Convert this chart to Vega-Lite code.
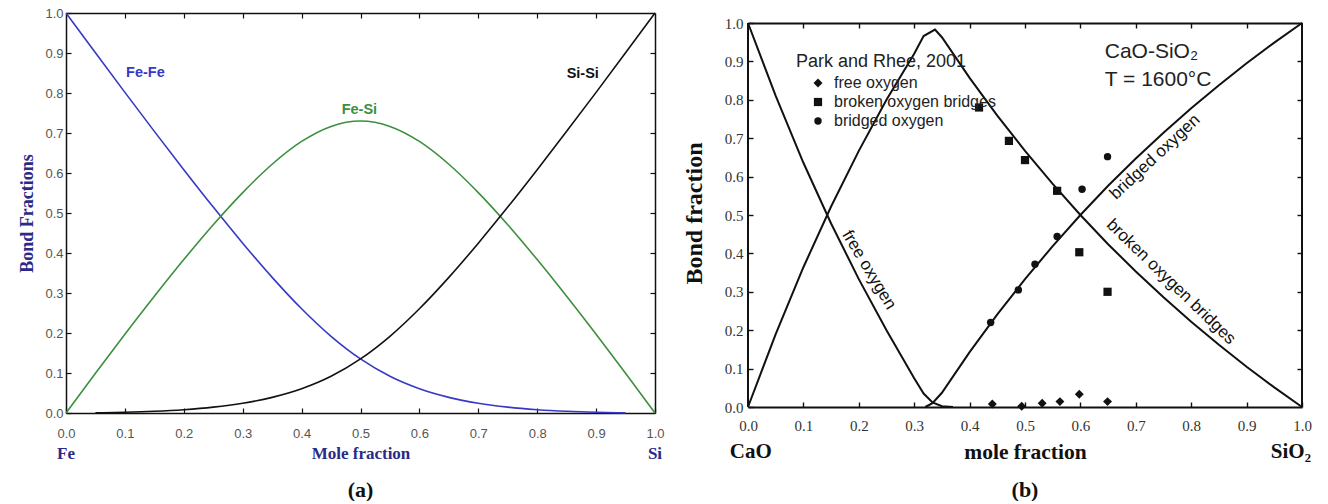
{
  "$schema": "https://vega.github.io/schema/vega-lite/v6.json",
  "background": "white",
  "padding": {"left": 18, "top": 7, "right": 0, "bottom": 0},
  "spacing": 17,
  "bounds": "full",
  "resolve": {"legend": {"shape": "independent", "size": "independent", "color": "independent"}},
  "config": {
    "view": {"stroke": null},
    "axis": {"grid": false, "labelFlush": false, "labelOverlap": false, "labelBound": false}
  },
  "datasets": {
    "lines_a": [
      {"pair": "Fe-Fe", "x": 0.0, "y": 1.0},
      {"pair": "Fe-Fe", "x": 0.05, "y": 0.9004},
      {"pair": "Fe-Fe", "x": 0.1, "y": 0.8016},
      {"pair": "Fe-Fe", "x": 0.15, "y": 0.7041},
      {"pair": "Fe-Fe", "x": 0.2, "y": 0.6083},
      {"pair": "Fe-Fe", "x": 0.25, "y": 0.5147},
      {"pair": "Fe-Fe", "x": 0.3, "y": 0.4245},
      {"pair": "Fe-Fe", "x": 0.35, "y": 0.3391},
      {"pair": "Fe-Fe", "x": 0.4, "y": 0.2606},
      {"pair": "Fe-Fe", "x": 0.45, "y": 0.1917},
      {"pair": "Fe-Fe", "x": 0.5, "y": 0.1351},
      {"pair": "Fe-Fe", "x": 0.55, "y": 0.0917},
      {"pair": "Fe-Fe", "x": 0.6, "y": 0.0606},
      {"pair": "Fe-Fe", "x": 0.65, "y": 0.0391},
      {"pair": "Fe-Fe", "x": 0.7, "y": 0.0245},
      {"pair": "Fe-Fe", "x": 0.75, "y": 0.0147},
      {"pair": "Fe-Fe", "x": 0.8, "y": 0.0083},
      {"pair": "Fe-Fe", "x": 0.85, "y": 0.0042},
      {"pair": "Fe-Fe", "x": 0.9, "y": 0.0017},
      {"pair": "Fe-Fe", "x": 0.95, "y": 0.0004},
      {"pair": "Fe-Si", "x": 0.0, "y": 0.0},
      {"pair": "Fe-Si", "x": 0.05, "y": 0.0992},
      {"pair": "Fe-Si", "x": 0.1, "y": 0.1967},
      {"pair": "Fe-Si", "x": 0.15, "y": 0.2917},
      {"pair": "Fe-Si", "x": 0.2, "y": 0.3835},
      {"pair": "Fe-Si", "x": 0.25, "y": 0.4706},
      {"pair": "Fe-Si", "x": 0.3, "y": 0.551},
      {"pair": "Fe-Si", "x": 0.35, "y": 0.6219},
      {"pair": "Fe-Si", "x": 0.4, "y": 0.6789},
      {"pair": "Fe-Si", "x": 0.45, "y": 0.7165},
      {"pair": "Fe-Si", "x": 0.5, "y": 0.7299},
      {"pair": "Fe-Si", "x": 0.55, "y": 0.7165},
      {"pair": "Fe-Si", "x": 0.6, "y": 0.6789},
      {"pair": "Fe-Si", "x": 0.65, "y": 0.6219},
      {"pair": "Fe-Si", "x": 0.7, "y": 0.551},
      {"pair": "Fe-Si", "x": 0.75, "y": 0.4706},
      {"pair": "Fe-Si", "x": 0.8, "y": 0.3835},
      {"pair": "Fe-Si", "x": 0.85, "y": 0.2917},
      {"pair": "Fe-Si", "x": 0.9, "y": 0.1967},
      {"pair": "Fe-Si", "x": 0.95, "y": 0.0992},
      {"pair": "Fe-Si", "x": 1.0, "y": 0.0},
      {"pair": "Si-Si", "x": 0.05, "y": 0.0004},
      {"pair": "Si-Si", "x": 0.1, "y": 0.0017},
      {"pair": "Si-Si", "x": 0.15, "y": 0.0042},
      {"pair": "Si-Si", "x": 0.2, "y": 0.0083},
      {"pair": "Si-Si", "x": 0.25, "y": 0.0147},
      {"pair": "Si-Si", "x": 0.3, "y": 0.0245},
      {"pair": "Si-Si", "x": 0.35, "y": 0.0391},
      {"pair": "Si-Si", "x": 0.4, "y": 0.0606},
      {"pair": "Si-Si", "x": 0.45, "y": 0.0917},
      {"pair": "Si-Si", "x": 0.5, "y": 0.1351},
      {"pair": "Si-Si", "x": 0.55, "y": 0.1917},
      {"pair": "Si-Si", "x": 0.6, "y": 0.2606},
      {"pair": "Si-Si", "x": 0.65, "y": 0.3391},
      {"pair": "Si-Si", "x": 0.7, "y": 0.4245},
      {"pair": "Si-Si", "x": 0.75, "y": 0.5147},
      {"pair": "Si-Si", "x": 0.8, "y": 0.6083},
      {"pair": "Si-Si", "x": 0.85, "y": 0.7041},
      {"pair": "Si-Si", "x": 0.9, "y": 0.8016},
      {"pair": "Si-Si", "x": 0.95, "y": 0.9004},
      {"pair": "Si-Si", "x": 1.0, "y": 1.0}
    ],
    "labels_a": [
      {"pair": "Fe-Fe", "x": 0.102, "y": 0.849},
      {"pair": "Fe-Si", "x": 0.468, "y": 0.7575},
      {"pair": "Si-Si", "x": 0.85, "y": 0.8475}
    ],
    "ends_a": [
      {"label": "Fe", "x": 0.0, "y": -0.1025},
      {"label": "Si", "x": 1.0, "y": -0.1025}
    ],
    "panel_a": [
      {"label": "(a)", "x": 0.5, "y": -0.1925}
    ],
    "lines_b": [
      {"curve": "free oxygen", "x": 0.0, "y": 1.0},
      {"curve": "free oxygen", "x": 0.05, "y": 0.81},
      {"curve": "free oxygen", "x": 0.1, "y": 0.636},
      {"curve": "free oxygen", "x": 0.15, "y": 0.478},
      {"curve": "free oxygen", "x": 0.2, "y": 0.333},
      {"curve": "free oxygen", "x": 0.25, "y": 0.2},
      {"curve": "free oxygen", "x": 0.3, "y": 0.075},
      {"curve": "free oxygen", "x": 0.317, "y": 0.035},
      {"curve": "free oxygen", "x": 0.333, "y": 0.012},
      {"curve": "free oxygen", "x": 0.35, "y": 0.002},
      {"curve": "free oxygen", "x": 0.37, "y": 0.0},
      {"curve": "broken oxygen bridges", "x": 0.0, "y": 0.0},
      {"curve": "broken oxygen bridges", "x": 0.05, "y": 0.19},
      {"curve": "broken oxygen bridges", "x": 0.1, "y": 0.364},
      {"curve": "broken oxygen bridges", "x": 0.15, "y": 0.522},
      {"curve": "broken oxygen bridges", "x": 0.2, "y": 0.667},
      {"curve": "broken oxygen bridges", "x": 0.25, "y": 0.8},
      {"curve": "broken oxygen bridges", "x": 0.3, "y": 0.92},
      {"curve": "broken oxygen bridges", "x": 0.317, "y": 0.966},
      {"curve": "broken oxygen bridges", "x": 0.3375, "y": 0.983},
      {"curve": "broken oxygen bridges", "x": 0.35, "y": 0.963},
      {"curve": "broken oxygen bridges", "x": 0.4, "y": 0.857},
      {"curve": "broken oxygen bridges", "x": 0.45, "y": 0.759},
      {"curve": "broken oxygen bridges", "x": 0.5, "y": 0.667},
      {"curve": "broken oxygen bridges", "x": 0.55, "y": 0.581},
      {"curve": "broken oxygen bridges", "x": 0.6, "y": 0.5},
      {"curve": "broken oxygen bridges", "x": 0.65, "y": 0.424},
      {"curve": "broken oxygen bridges", "x": 0.7, "y": 0.353},
      {"curve": "broken oxygen bridges", "x": 0.75, "y": 0.286},
      {"curve": "broken oxygen bridges", "x": 0.8, "y": 0.222},
      {"curve": "broken oxygen bridges", "x": 0.85, "y": 0.162},
      {"curve": "broken oxygen bridges", "x": 0.9, "y": 0.105},
      {"curve": "broken oxygen bridges", "x": 0.95, "y": 0.051},
      {"curve": "broken oxygen bridges", "x": 1.0, "y": 0.0},
      {"curve": "bridged oxygen", "x": 0.32, "y": 0.0},
      {"curve": "bridged oxygen", "x": 0.333, "y": 0.01},
      {"curve": "bridged oxygen", "x": 0.35, "y": 0.037},
      {"curve": "bridged oxygen", "x": 0.4, "y": 0.143},
      {"curve": "bridged oxygen", "x": 0.45, "y": 0.241},
      {"curve": "bridged oxygen", "x": 0.5, "y": 0.333},
      {"curve": "bridged oxygen", "x": 0.55, "y": 0.419},
      {"curve": "bridged oxygen", "x": 0.6, "y": 0.5},
      {"curve": "bridged oxygen", "x": 0.65, "y": 0.576},
      {"curve": "bridged oxygen", "x": 0.7, "y": 0.647},
      {"curve": "bridged oxygen", "x": 0.75, "y": 0.714},
      {"curve": "bridged oxygen", "x": 0.8, "y": 0.778},
      {"curve": "bridged oxygen", "x": 0.85, "y": 0.838},
      {"curve": "bridged oxygen", "x": 0.9, "y": 0.895},
      {"curve": "bridged oxygen", "x": 0.95, "y": 0.949},
      {"curve": "bridged oxygen", "x": 1.0, "y": 1.0}
    ],
    "points_b": [
      {"series": "free oxygen", "x": 0.441, "y": 0.008},
      {"series": "free oxygen", "x": 0.494, "y": 0.002},
      {"series": "free oxygen", "x": 0.531, "y": 0.01},
      {"series": "free oxygen", "x": 0.563, "y": 0.014},
      {"series": "free oxygen", "x": 0.598, "y": 0.033},
      {"series": "free oxygen", "x": 0.649, "y": 0.014},
      {"series": "broken oxygen bridges", "x": 0.417, "y": 0.78},
      {"series": "broken oxygen bridges", "x": 0.471, "y": 0.693},
      {"series": "broken oxygen bridges", "x": 0.5, "y": 0.643},
      {"series": "broken oxygen bridges", "x": 0.558, "y": 0.563},
      {"series": "broken oxygen bridges", "x": 0.598, "y": 0.403},
      {"series": "broken oxygen bridges", "x": 0.649, "y": 0.3},
      {"series": "bridged oxygen", "x": 0.438, "y": 0.22},
      {"series": "bridged oxygen", "x": 0.488, "y": 0.305},
      {"series": "bridged oxygen", "x": 0.518, "y": 0.372},
      {"series": "bridged oxygen", "x": 0.558, "y": 0.444},
      {"series": "bridged oxygen", "x": 0.603, "y": 0.567},
      {"series": "bridged oxygen", "x": 0.649, "y": 0.652}
    ],
    "frame_b": [
      {"x": 0.0},
      {"x": 1.0}
    ],
    "annot_b": [
      {"label": "free oxygen", "x": 0.2184, "y": 0.357},
      {"label": "bridged oxygen", "x": 0.7347, "y": 0.651},
      {"label": "broken oxygen bridges", "x": 0.7635, "y": 0.326}
    ],
    "notes_b": [
      {"label": "Park and Rhee, 2001", "x": 0.0866, "y": 0.898, "size": "small"},
      {"label": "CaO-SiO₂", "x": 0.644, "y": 0.925, "size": "big"},
      {"label": "T = 1600°C", "x": 0.644, "y": 0.852, "size": "big"}
    ],
    "ends_b": [
      {"label": "CaO", "x": 0.005, "y": -0.117},
      {"label": "SiO₂", "x": 0.98, "y": -0.117}
    ],
    "panel_b": [
      {"label": "(b)", "x": 0.5, "y": -0.216}
    ]
  },
  "hconcat": [
    {
      "width": 589,
      "height": 400,
      "resolve": {"axis": {"x": "independent", "y": "independent"}},
      "layer": [
        {
          "data": {"name": "lines_a"},
          "mark": {"type": "line", "interpolate": "monotone", "strokeWidth": 1.6},
          "encoding": {
            "x": {"field": "x", "type": "quantitative",
              "scale": {"domain": [0, 1], "nice": false, "zero": false},
              "axis": {"orient": "bottom", "values": [0, 0.1, 0.2, 0.3, 0.4, 0.5, 0.6, 0.7, 0.8, 0.9, 1.0], "format": ".1f",
                "title": "Mole fraction", "titleFont": "Liberation Serif", "titleFontSize": 17, "titleFontWeight": "bold", "titleColor": "#2a2a88", "titlePadding": 5,
                "labelFont": "Liberation Sans", "labelFontSize": 13, "labelColor": "#555555", "labelPadding": 19,
                "tickSize": -5, "tickColor": "#111111", "tickWidth": 1.2, "domainColor": "#111111", "domainWidth": 1.5}},
            "y": {"field": "y", "type": "quantitative",
              "scale": {"domain": [0, 1], "nice": false, "zero": false},
              "axis": {"orient": "left", "values": [0, 0.1, 0.2, 0.3, 0.4, 0.5, 0.6, 0.7, 0.8, 0.9, 1.0], "format": ".1f",
                "title": "Bond Fractions", "titleFont": "Liberation Serif", "titleFontSize": 18, "titleFontWeight": "bold", "titleColor": "#2a2a88", "titlePadding": 8,
                "labelFont": "Liberation Sans", "labelFontSize": 13, "labelColor": "#555555", "labelPadding": 8,
                "tickSize": -5, "tickColor": "#111111", "tickWidth": 1.2, "domainColor": "#111111", "domainWidth": 1.5}},
            "color": {"field": "pair", "type": "nominal",
              "scale": {"domain": ["Fe-Fe", "Fe-Si", "Si-Si"], "range": ["#3838c8", "#3d8f3d", "#111111"]}, "legend": null}
          }
        },
        {
          "data": {"name": "labels_a"},
          "mark": {"type": "text", "align": "left", "baseline": "middle", "font": "Liberation Sans", "fontWeight": "bold", "fontSize": 14.5},
          "encoding": {
            "x": {"field": "x", "type": "quantitative",
              "axis": {"orient": "top", "labels": false, "title": null, "values": [0.1, 0.2, 0.3, 0.4, 0.5, 0.6, 0.7, 0.8, 0.9],
                "tickSize": -5, "tickColor": "#111111", "tickWidth": 1.2, "domainColor": "#111111", "domainWidth": 1.5}},
            "y": {"field": "y", "type": "quantitative",
              "axis": {"orient": "right", "labels": false, "title": null, "values": [0.1, 0.2, 0.3, 0.4, 0.5, 0.6, 0.7, 0.8, 0.9],
                "tickSize": -5, "tickColor": "#111111", "tickWidth": 1.2, "domainColor": "#111111", "domainWidth": 1.5}},
            "text": {"field": "pair"},
            "color": {"field": "pair", "type": "nominal", "legend": null}
          }
        },
        {
          "data": {"name": "ends_a"},
          "mark": {"type": "text", "align": "center", "baseline": "middle", "font": "Liberation Serif", "fontWeight": "bold", "fontSize": 17, "color": "#2a2a88"},
          "encoding": {
            "x": {"field": "x", "type": "quantitative", "axis": null},
            "y": {"field": "y", "type": "quantitative", "axis": null},
            "text": {"field": "label"}
          }
        },
        {
          "data": {"name": "panel_a"},
          "mark": {"type": "text", "align": "center", "baseline": "middle", "font": "Liberation Serif", "fontWeight": "bold", "fontSize": 22, "color": "#111111"},
          "encoding": {
            "x": {"field": "x", "type": "quantitative", "axis": null},
            "y": {"field": "y", "type": "quantitative", "axis": null},
            "text": {"field": "label"}
          }
        }
      ]
    },
    {
      "width": 554,
      "height": 400,
      "resolve": {"axis": {"x": "independent", "y": "independent"}},
      "layer": [
        {
          "data": {"name": "lines_b"},
          "mark": {"type": "line", "strokeWidth": 2, "color": "#111111"},
          "encoding": {
            "x": {"field": "x", "type": "quantitative",
              "scale": {"domain": [0, 1], "nice": false, "zero": false},
              "axis": {"orient": "bottom", "offset": -6, "values": [0, 0.1, 0.2, 0.3, 0.4, 0.5, 0.6, 0.7, 0.8, 0.9, 1.0], "format": ".1f",
                "title": "mole fraction", "titleFont": "Liberation Serif", "titleFontSize": 21.5, "titleFontWeight": "bold", "titleColor": "#111111", "titlePadding": 8,
                "labelFont": "Liberation Serif", "labelFontSize": 15, "labelColor": "#333333", "labelPadding": 16,
                "tickSize": -5, "tickColor": "#111111", "tickWidth": 1.4, "domainColor": "#111111", "domainWidth": 2}},
            "y": {"field": "y", "type": "quantitative",
              "scale": {"domain": [-0.015625, 1.0260417], "nice": false, "zero": false},
              "axis": {"orient": "left", "domain": false, "values": [0, 0.1, 0.2, 0.3, 0.4, 0.5, 0.6, 0.7, 0.8, 0.9, 1.0], "format": ".1f",
                "title": "Bond fraction", "titleFont": "Liberation Serif", "titleFontSize": 24, "titleFontWeight": "bold", "titleColor": "#111111", "titlePadding": 18,
                "labelFont": "Liberation Serif", "labelFontSize": 15, "labelColor": "#333333", "labelPadding": 10,
                "tickSize": -5, "tickColor": "#111111", "tickWidth": 1.4}},
            "detail": {"field": "curve", "type": "nominal"}
          }
        },
        {
          "data": {"name": "frame_b"},
          "mark": {"type": "rule", "strokeWidth": 2, "color": "#111111"},
          "encoding": {
            "x": {"field": "x", "type": "quantitative", "axis": null},
            "y": {"datum": 0, "type": "quantitative", "axis": null},
            "y2": {"datum": 1}
          }
        },
        {
          "data": {"name": "points_b"},
          "mark": {"type": "point", "filled": true, "opacity": 1, "color": "#111111"},
          "encoding": {
            "x": {"field": "x", "type": "quantitative",
              "axis": {"orient": "top", "offset": -10, "labels": false, "title": null, "values": [0.1, 0.2, 0.3, 0.4, 0.5, 0.6, 0.7, 0.8, 0.9],
                "tickSize": -5, "tickColor": "#111111", "tickWidth": 1.4, "domainColor": "#111111", "domainWidth": 2}},
            "y": {"field": "y", "type": "quantitative",
              "axis": {"orient": "right", "domain": false, "labels": false, "title": null, "values": [0.1, 0.2, 0.3, 0.4, 0.5, 0.6, 0.7, 0.8, 0.9],
                "tickSize": -5, "tickColor": "#111111", "tickWidth": 1.4}},
            "shape": {"field": "series", "type": "nominal",
              "scale": {"domain": ["free oxygen", "broken oxygen bridges", "bridged oxygen"], "range": ["diamond", "square", "circle"]},
              "legend": {"orient": "none", "legendX": 62, "legendY": 62, "title": null, "padding": 0, "rowPadding": 3, "labelLimit": 0,
                "labelFont": "Liberation Sans", "labelFontSize": 16, "labelColor": "#222222", "labelOffset": 8, "symbolStrokeWidth": 0}},
            "size": {"field": "series", "type": "nominal",
              "scale": {"domain": ["free oxygen", "broken oxygen bridges", "bridged oxygen"], "range": [80, 55, 110]}}
          }
        },
        {
          "data": {"name": "annot_b"},
          "transform": [{"filter": "datum.label === 'free oxygen'"}],
          "mark": {"type": "text", "align": "center", "baseline": "middle", "angle": 59, "font": "Liberation Sans", "fontSize": 17, "color": "#111111"},
          "encoding": {
            "x": {"field": "x", "type": "quantitative", "axis": null},
            "y": {"field": "y", "type": "quantitative", "axis": null},
            "text": {"field": "label"}
          }
        },
        {
          "data": {"name": "annot_b"},
          "transform": [{"filter": "datum.label === 'bridged oxygen'"}],
          "mark": {"type": "text", "align": "center", "baseline": "middle", "angle": -43, "font": "Liberation Sans", "fontSize": 17, "color": "#111111"},
          "encoding": {
            "x": {"field": "x", "type": "quantitative", "axis": null},
            "y": {"field": "y", "type": "quantitative", "axis": null},
            "text": {"field": "label"}
          }
        },
        {
          "data": {"name": "annot_b"},
          "transform": [{"filter": "datum.label === 'broken oxygen bridges'"}],
          "mark": {"type": "text", "align": "center", "baseline": "middle", "angle": 44, "font": "Liberation Sans", "fontSize": 17, "color": "#111111"},
          "encoding": {
            "x": {"field": "x", "type": "quantitative", "axis": null},
            "y": {"field": "y", "type": "quantitative", "axis": null},
            "text": {"field": "label"}
          }
        },
        {
          "data": {"name": "notes_b"},
          "transform": [{"filter": "datum.size === 'small'"}],
          "mark": {"type": "text", "align": "left", "baseline": "middle", "font": "Liberation Sans", "fontSize": 18, "color": "#222222"},
          "encoding": {
            "x": {"field": "x", "type": "quantitative", "axis": null},
            "y": {"field": "y", "type": "quantitative", "axis": null},
            "text": {"field": "label"}
          }
        },
        {
          "data": {"name": "notes_b"},
          "transform": [{"filter": "datum.size === 'big'"}],
          "mark": {"type": "text", "align": "left", "baseline": "middle", "font": "Liberation Sans", "fontSize": 21, "color": "#222222"},
          "encoding": {
            "x": {"field": "x", "type": "quantitative", "axis": null},
            "y": {"field": "y", "type": "quantitative", "axis": null},
            "text": {"field": "label"}
          }
        },
        {
          "data": {"name": "ends_b"},
          "mark": {"type": "text", "align": "center", "baseline": "middle", "font": "Liberation Serif", "fontWeight": "bold", "fontSize": 21, "color": "#111111"},
          "encoding": {
            "x": {"field": "x", "type": "quantitative", "axis": null},
            "y": {"field": "y", "type": "quantitative", "axis": null},
            "text": {"field": "label"}
          }
        },
        {
          "data": {"name": "panel_b"},
          "mark": {"type": "text", "align": "center", "baseline": "middle", "font": "Liberation Serif", "fontWeight": "bold", "fontSize": 22, "color": "#111111"},
          "encoding": {
            "x": {"field": "x", "type": "quantitative", "axis": null},
            "y": {"field": "y", "type": "quantitative", "axis": null},
            "text": {"field": "label"}
          }
        }
      ]
    }
  ]
}
